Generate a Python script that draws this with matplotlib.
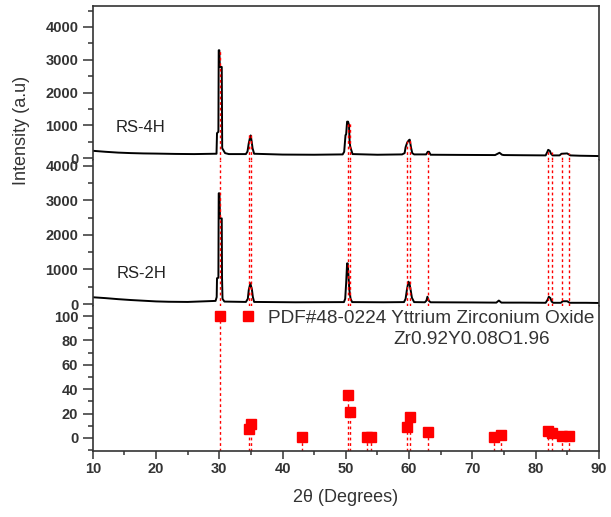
import numpy as np
import matplotlib.pyplot as plt
from matplotlib.ticker import MultipleLocator
from matplotlib.lines import Line2D

plt.rcParams['font.family'] = ['Liberation Sans', 'DejaVu Sans']

# RS-4H pattern
rs4h_2theta = [10, 12, 14, 16, 18, 20, 23, 26, 29.3, 29.55, 29.63, 29.85, 29.9, 30.0, 30.08, 30.38, 30.45, 30.9, 31.5,
               34.2, 34.45, 34.65, 34.8, 34.95, 35.1, 35.25, 35.5,
               40, 45, 49.5, 49.74, 49.95, 50.05, 50.2, 50.35, 50.5, 50.6, 50.7, 51.06,
               55, 58.9, 59.3, 59.45, 59.7, 59.95, 60.1, 60.3, 60.5, 60.8,
               62.7, 62.95, 63.15, 63.4,
               68, 73.6, 74.0, 74.3, 74.7, 75.0,
               78, 81.6, 81.85, 82.0, 82.25, 82.45, 82.7,
               83.8, 84.1, 85.0, 85.5, 87, 90]
rs4h_counts = [220, 190, 165, 150, 140, 135, 125, 120, 130, 130, 760, 800, 3290, 3290, 2780, 2780, 300, 150, 120,
               120, 200, 450, 580, 690, 520, 300, 130,
               105, 100, 110, 190, 700, 720, 1110, 1110, 1010, 500, 345, 120,
               100, 110, 150, 330, 470, 540, 560, 330, 150, 110,
               110, 190, 190, 100,
               95, 90, 130, 160, 100, 90,
               85, 80, 180, 250, 220, 130, 80,
               80, 130, 140, 80, 70, 60]

# RS-2H pattern, middle panel
rs2h_2theta = [10, 12, 14, 16, 18, 20, 22, 25, 28, 29.4, 29.58, 29.63, 29.85, 29.9, 30.02, 30.1, 30.38, 30.42, 30.5, 30.8,
               34.2, 34.5, 34.65, 34.9, 35.15, 35.3, 35.5,
               42, 49.7, 49.9, 50.05, 50.2, 50.3, 50.4, 50.55, 50.75, 51.0,
               56, 59.2, 59.45, 59.65, 59.9, 60.1, 60.3, 60.45, 60.8,
               62.5, 62.75, 62.9, 63.1, 63.4,
               70, 73.8, 74.2, 74.6,
               78, 81.6, 81.9, 82.1, 82.35, 82.55, 82.8,
               84.0, 84.3, 85.0, 85.4, 88, 90]
rs2h_counts = [195, 170, 140, 115, 95, 75, 65, 60, 80, 90, 200, 745, 760, 3200, 3200, 2475, 2475, 790, 150, 70,
               60, 150, 405, 600, 420, 200, 60,
               50, 55, 150, 600, 1175, 1175, 900, 420, 150, 55,
               50, 55, 150, 400, 645, 560, 350, 180, 55,
               50, 100, 210, 100, 50,
               45, 40, 100, 40,
               40, 35, 120, 210, 170, 70, 35,
               35, 80, 80, 35, 35, 30]

# reference card PDF#48-0224
pdf_2theta = [30.16, 34.65, 35.03, 43.12, 50.27, 50.69, 53.28, 53.97, 59.63, 60.16,
              63.07, 73.44, 74.6, 82.01, 82.65, 84.23, 85.29]
pdf_intensity = [100, 7, 11.5, 0.5, 35, 21, 0.5, 0.5, 9.3, 17.5,
                 5, 0.5, 2.5, 6, 4, 1.6, 1.6]
# reflections traced up through the measured patterns
pdf_matched = [True, True, True, False, True, True, False, False, True, True,
               True, False, False, True, True, True, True]

pdf_name = 'PDF#48-0224 Yttrium Zirconium Oxide'
pdf_formula = 'Zr0.92Y0.08O1.96'

axis_col = '#333333'
red = '#ff0000'
dash = (0, (2, 2))

fig = plt.figure(figsize=(6.11, 5.17), dpi=100)
left, width = 0.152, 0.828
ax_top = fig.add_axes([left, 0.6905, width, 0.2979])
ax_mid = fig.add_axes([left, 0.4081, width, 0.2824])
ax_bot = fig.add_axes([left, 0.1277, width, 0.2804])

ax_top.set_ylim(-61, 4641)
ax_mid.set_ylim(-58, 4162)
ax_bot.set_ylim(-10.7, 108.2)

for ax in (ax_top, ax_mid, ax_bot):
    ax.set_xlim(10, 90)
    for s in ax.spines.values():
        s.set_color(axis_col)
        s.set_linewidth(1.2)
    ax.tick_params(axis='y', which='both', direction='out', color=axis_col, width=1.1,
                   labelsize=10.5, labelcolor=axis_col, right=False)
    ax.tick_params(axis='y', which='major', length=7)
    ax.tick_params(axis='y', which='minor', length=3.5)

ax_top.spines['bottom'].set_visible(False)
ax_mid.spines['top'].set_visible(False)
ax_mid.spines['bottom'].set_visible(False)
ax_bot.spines['top'].set_visible(False)

for ax in (ax_top, ax_mid):
    ax.set_yticks(range(0, 4001, 1000))
    ax.yaxis.set_minor_locator(MultipleLocator(500))
    ax.tick_params(axis='x', which='both', bottom=False, top=False, labelbottom=False)

ax_bot.set_yticks(range(0, 101, 20))
ax_bot.yaxis.set_minor_locator(MultipleLocator(10))
ax_bot.set_xticks(range(10, 91, 10))
ax_bot.xaxis.set_minor_locator(MultipleLocator(5))
ax_bot.tick_params(axis='x', which='both', direction='out', color=axis_col, width=1.1,
                   labelsize=10.5, labelcolor=axis_col, top=False, pad=2)
ax_bot.tick_params(axis='x', which='major', length=6)
ax_bot.tick_params(axis='x', which='minor', length=3)

for ax in (ax_top, ax_mid, ax_bot):
    for lab in ax.get_yticklabels() + ax.get_xticklabels():
        lab.set_fontweight('bold')

# patterns
ax_top.plot(rs4h_2theta, rs4h_counts, color='black', lw=1.4, zorder=2)
ax_mid.plot(rs2h_2theta, rs2h_counts, color='black', lw=1.4, zorder=2)

# reference lines through the patterns
for p, m in zip(pdf_2theta, pdf_matched):
    if not m:
        continue
    win = np.linspace(p - 0.3, p + 0.3, 31)
    h = np.interp(win, rs4h_2theta, rs4h_counts).max()
    ax_top.vlines(p, ax_top.get_ylim()[0], h, colors=red, linestyles=dash, lw=1, zorder=3)
    ax_mid.axvline(p, color=red, ls=dash, lw=1, zorder=3)

ax_bot.vlines(pdf_2theta, ax_bot.get_ylim()[0], pdf_intensity, colors=red, linestyles=dash, lw=1, zorder=2)
ax_bot.plot(pdf_2theta, pdf_intensity, 's', color=red, ms=7.5, ls='none', zorder=3, clip_on=False)

handle = Line2D([], [], marker='s', color=red, ms=7.5, ls='none')
leg = ax_bot.legend([handle], [pdf_name], loc='center right', bbox_to_anchor=(0.992, 0.917),
                    frameon=False, fontsize=13.7, handlelength=1.0, handletextpad=0.55,
                    borderaxespad=0, borderpad=0, numpoints=1)
for t in leg.get_texts():
    t.set_color(axis_col)
ax_bot.text(0.593, 0.766, pdf_formula, transform=ax_bot.transAxes, ha='left', va='center',
            fontsize=13.7, color=axis_col)

ax_top.text(0.045, 0.21, 'RS-4H', transform=ax_top.transAxes, fontsize=12, color='#222222', va='center')
ax_mid.text(0.047, 0.226, 'RS-2H', transform=ax_mid.transAxes, fontsize=12, color='#222222', va='center')

fig.text(0.036, 1 - 130 / 517, 'Intensity (a.u)', rotation=90, ha='center', va='center',
         fontsize=13, color=axis_col)
ax_bot.set_xlabel('2θ (Degrees)', fontsize=13, color=axis_col, labelpad=9)

fig.savefig('out.png', dpi=100)
